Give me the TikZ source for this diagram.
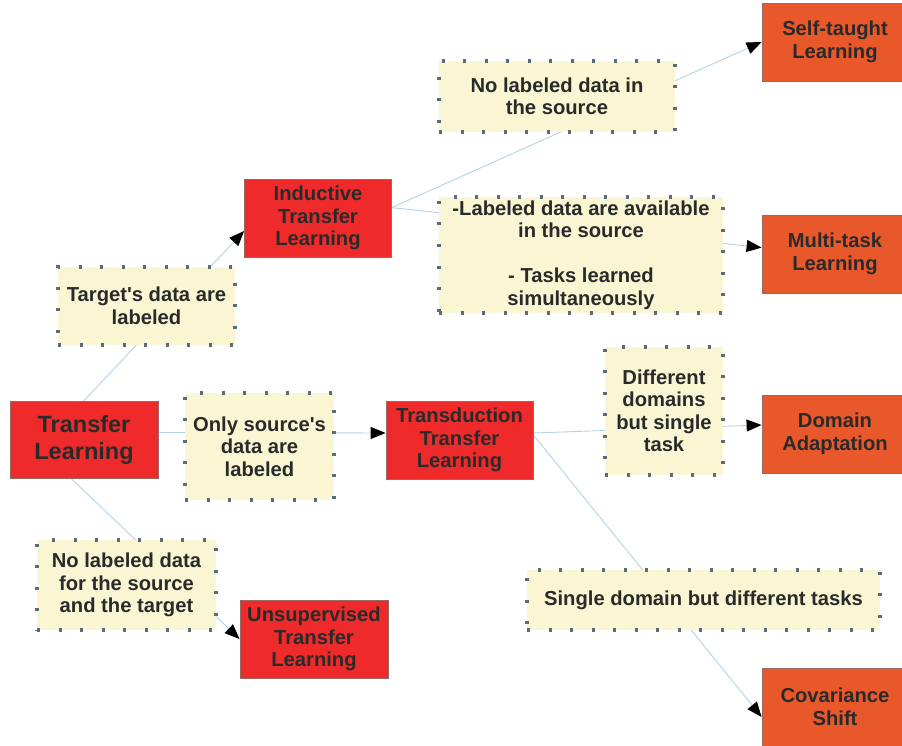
\documentclass[tikz,border=0pt]{standalone}
\usepackage{fontspec}
\setmainfont{Liberation Sans}[Ligatures=TeXOff]
\usetikzlibrary{arrows.meta,backgrounds}
\definecolor{redbox}{HTML}{EE2A2A}
\definecolor{orangebox}{HTML}{E9582A}
\definecolor{beige}{HTML}{FAF6D4}
\definecolor{dotcol}{HTML}{5A6C78}
\definecolor{linecol}{HTML}{B4D2E8}
\definecolor{txt}{HTML}{2A2A2A}
\definecolor{edgecol}{HTML}{9A6A60}
\tikzset{
  base/.style={inner sep=0pt, align=center, text=txt, font=\bfseries\fontsize{20.2}{22.5}\selectfont},
  redbox/.style={base, fill=redbox, draw=edgecol, line width=0.8pt, minimum width=147pt, minimum height=78pt},
  orbox/.style={base, fill=orangebox, draw=edgecol, line width=0.8pt, minimum width=146pt, minimum height=78pt},
  cond/.style={base, fill=beige, draw=dotcol, line width=3.2pt, dash pattern=on 3pt off 18.5pt},
  conn/.style={draw=linecol, line width=0.9pt},
  arr/.style={conn, -{Triangle[length=15pt,width=12pt,color=black]}}
}
\begin{document}
\begin{tikzpicture}[x=1pt,y=-1pt]
\useasboundingbox (0,0) rectangle (902,746);
% main boxes
\node[redbox, minimum width=148pt, minimum height=77pt, font=\bfseries\fontsize{23.5}{27}\selectfont] (tl) at (84,439.5) {Transfer\\Learning};
\node[redbox] (itl) at (318,218) {Inductive\\Transfer\\Learning};
\node[redbox] (ttl) at (459.5,440) {Transduction\\Transfer\\Learning};
\node[redbox, minimum width=148pt] (utl) at (314,639) {Unsupervised\\Transfer\\Learning};
\node[orbox] (stl) at (835,42) {Self-taught\\Learning};
\node[orbox] (mtl) at (835,254) {Multi-task\\Learning};
\node[orbox] (da) at (835,434) {Domain\\Adaptation};
\node[orbox] (cs) at (835,707) {Covariance\\Shift};
% condition boxes
\node[cond, minimum width=177pt, minimum height=78pt] (td) at (146.5,306) {Target's data are\\labeled};
\node[cond, minimum width=236pt, minimum height=71pt] (nls) at (557,96.5) {No labeled data in\\the source};
\node[cond, minimum width=284pt, minimum height=116pt] (lda) at (581,255) {-Labeled data are available\\in the source\\[22.5pt]- Tasks learned\\simultaneously};
\node[cond, minimum width=149pt, minimum height=107pt] (os) at (259.5,446.5) {Only source's\\data are\\labeled};
\node[cond, minimum width=118pt, minimum height=128pt] (dd) at (664,411) {Different\\domains\\but single\\task};
\node[cond, minimum width=353pt, minimum height=60pt] (sd) at (703.5,600) {Single domain but different tasks};
\node[cond, minimum width=179pt, minimum height=90pt] (nlst) at (126.5,585) {No labeled data\\for the source\\and the target};
% connectors
\begin{scope}[on background layer]
\draw[arr] (tl.north) -- (itl.190);
\draw[arr] (itl.8) -- (stl.west);
\draw[arr] (itl.8) -- (mtl.175);
\draw[arr] ([yshift=7pt]tl.east) -- ([yshift=7pt]ttl.west);
\draw[arr] ([yshift=7pt]ttl.east) -- ([yshift=9pt]da.west);
\draw[arr] ([yshift=5pt]ttl.east) -- ([yshift=-10pt]cs.west);
\draw[arr] ([xshift=-13pt]tl.south) -- (utl.west);
\end{scope}
\end{tikzpicture}
\end{document}
